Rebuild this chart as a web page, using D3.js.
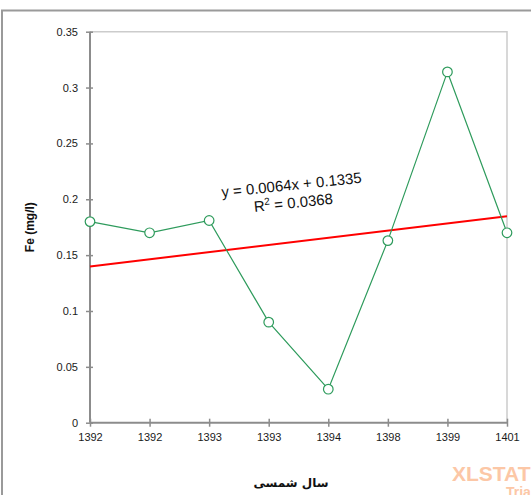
<!DOCTYPE html>
<html lang="en">
  <head>
    <meta charset="utf-8" />
    <title>Fe (mg/l)</title>
    <script src="https://d3js.org/d3.v7.min.js"></script>
    <style>
      body { margin: 0; background: #fff; }
      svg { display: block; font-family: "Liberation Sans", Arial, sans-serif; }
    </style>
  </head>
  <body>
    <div id="chart"></div>
    <script>
      // data
      const years = ["1392", "1392", "1393", "1393", "1394", "1398", "1399", "1401"];
      const fe = [0.18, 0.17, 0.181, 0.09, 0.03, 0.163, 0.314, 0.17];
      const yTicks = [0, 0.05, 0.1, 0.15, 0.2, 0.25, 0.3, 0.35];
      // linear trend as printed on the chart (x = 1..n)
      const trendSlope = 0.0064;
      const trendIntercept = 0.1335;

      const width = 531, height = 495;
      const margin = { left: 90, top: 31.7, right: 24, bottom: 72.3 };

      const svg = d3.select("#chart").append("svg")
        .attr("width", width)
        .attr("height", height);

      // outer frame (only top and left visible)
      svg.append("path")
        .attr("d", `M2,${height} L2,10.5 L${width},10.5`)
        .attr("fill", "none")
        .attr("stroke", "#9a9a9a")
        .attr("stroke-width", 2);

      const x = d3.scalePoint()
        .domain(d3.range(years.length))
        .range([margin.left, width - margin.right]);

      const y = d3.scaleLinear()
        .domain([0, 0.35])
        .range([height - margin.bottom, margin.top]);

      // plot area border (top / right)
      svg.append("path")
        .attr("d", `M${x.range()[0]},${y(0.35)} L${x.range()[1]},${y(0.35)} L${x.range()[1]},${y(0)}`)
        .attr("fill", "none")
        .attr("stroke", "#cccccc")
        .attr("stroke-width", 1.5);

      const yAxis = svg.append("g")
        .attr("transform", `translate(${margin.left},0)`)
        .call(d3.axisLeft(y).tickValues(yTicks).tickSize(5).tickPadding(7)
          .tickFormat(d => d3.format("")(+d.toFixed(2))));

      const xAxis = svg.append("g")
        .attr("transform", `translate(0,${y(0)})`)
        .call(d3.axisBottom(x).tickSize(5).tickPadding(6).tickFormat(i => years[i]));

      // ticks straddle the axis line like in the source
      [yAxis, xAxis].forEach(g => {
        g.select(".domain").attr("stroke", "#8c8c8c").attr("stroke-width", 2);
        g.selectAll(".tick line").attr("stroke", "#8c8c8c").attr("stroke-width", 1.5);
        g.selectAll(".tick text").attr("fill", "#1a1a1a").attr("font-size", 11);
      });
      yAxis.select(".domain").attr("d", `M0,${y(0.35)}V${y(0)}`);
      yAxis.selectAll(".tick line").attr("x1", 3).attr("x2", -4);
      xAxis.select(".domain").attr("d", `M${x.range()[0]},0H${x.range()[1]}`);
      xAxis.selectAll(".tick line").attr("y1", -4).attr("y2", 4);

      // trend line
      const n = years.length;
      svg.append("line")
        .attr("x1", x(0)).attr("y1", y(trendIntercept + trendSlope * 1))
        .attr("x2", x(n - 1)).attr("y2", y(trendIntercept + trendSlope * n))
        .attr("stroke", "#ff0000")
        .attr("stroke-width", 2);

      // series
      const green = "#2e9b5c";
      svg.append("path")
        .datum(fe)
        .attr("fill", "none")
        .attr("stroke", green)
        .attr("stroke-width", 1.2)
        .attr("d", d3.line().x((d, i) => x(i)).y(d => y(d)));

      svg.selectAll("circle.pt")
        .data(fe)
        .join("circle")
        .attr("class", "pt")
        .attr("cx", (d, i) => x(i))
        .attr("cy", d => y(d))
        .attr("r", 4.8)
        .attr("fill", "#fff")
        .attr("stroke", green)
        .attr("stroke-width", 1.2);

      // equation label
      const eq = svg.append("g")
        .attr("transform", "translate(292,190) rotate(-6)")
        .attr("text-anchor", "middle")
        .attr("font-size", 15)
        .attr("fill", "#111");
      eq.append("text").attr("y", 0).text("y = 0.0064x + 0.1335");
      const r2 = eq.append("text").attr("y", 18);
      r2.append("tspan").text("R");
      r2.append("tspan").attr("font-size", 10).attr("dy", -6).text("2");
      r2.append("tspan").attr("dy", 6).text(" = 0.0368");

      // axis titles
      svg.append("text")
        .attr("transform", `translate(34,${(y(0) + y(0.35)) / 2}) rotate(-90)`)
        .attr("text-anchor", "middle")
        .attr("font-size", 12)
        .attr("font-weight", "bold")
        .attr("fill", "#111")
        .text("Fe (mg/l)");

      svg.append("text")
        .attr("x", 291)
        .attr("y", 487)
        .attr("text-anchor", "middle")
        .attr("font-family", "'DejaVu Sans', sans-serif")
        .attr("font-size", 12)
        .attr("font-weight", "bold")
        .attr("fill", "#111")
        .attr("direction", "rtl")
        .text("سال شمسی");

      // trial watermark
      svg.append("text")
        .attr("x", 452)
        .attr("y", 481)
        .attr("font-size", 21)
        .attr("font-weight", "bold")
        .attr("fill", "#fcc7a6")
        .text("XLSTAT");
      svg.append("text")
        .attr("x", 506)
        .attr("y", 497)
        .attr("font-size", 14)
        .attr("font-weight", "bold")
        .attr("fill", "#fcc7a6")
        .text("Trial");
    </script>
  </body>
</html>
